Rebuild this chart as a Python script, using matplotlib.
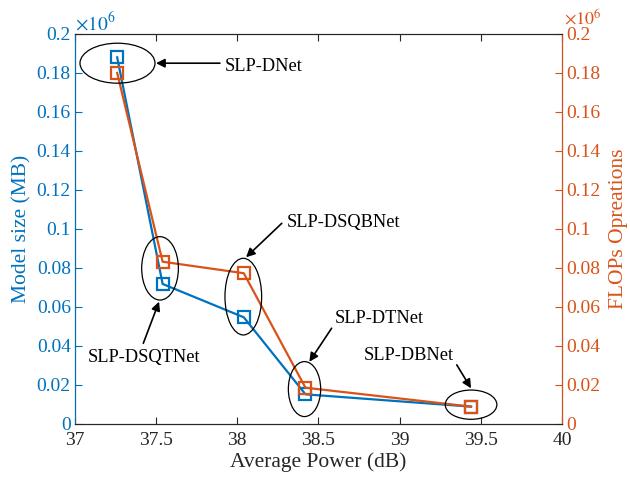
import matplotlib.pyplot as plt
from matplotlib.patches import Ellipse
from matplotlib.ticker import FormatStrFormatter, MultipleLocator

plt.rcParams['font.family'] = 'Liberation Serif'
plt.rcParams['mathtext.fontset'] = 'stix'

# data (values shown in units of 1e6)
power = [37.26, 37.54, 38.04, 38.42, 39.44]
model_size = [0.188, 0.0718, 0.0547, 0.0152, 0.0089]
flops = [0.180, 0.0832, 0.0773, 0.0186, 0.0089]
names = ['SLP-DNet', 'SLP-DSQTNet', 'SLP-DSQBNet', 'SLP-DTNet', 'SLP-DBNet']

BLUE = '#0072BD'
ORANGE = '#D95319'

fig = plt.figure(figsize=(6.3, 4.78), dpi=100)
ax = fig.add_axes([0.119, 0.113, 0.773, 0.816])
ax2 = ax.twinx()

ax.plot(power, model_size, '-s', color=BLUE, lw=1.6, ms=8, mfc='none', mew=1.6, zorder=3)
ax2.plot(power, flops, '-s', color=ORANGE, lw=1.6, ms=8, mfc='none', mew=1.6, zorder=3)

ax.set_xlim(37, 40)
ax.set_ylim(0, 0.2)
ax2.set_ylim(0, 0.2)
ax.xaxis.set_major_locator(MultipleLocator(0.5))
ax.yaxis.set_major_locator(MultipleLocator(0.02))
ax2.yaxis.set_major_locator(MultipleLocator(0.02))
for a in (ax, ax2):
    a.xaxis.set_major_formatter(FormatStrFormatter('%g'))
    a.yaxis.set_major_formatter(FormatStrFormatter('%g'))

ax.tick_params(axis='x', direction='in', top=True, length=5, labelsize=14, colors='#262626', pad=6)
ax.tick_params(axis='y', direction='in', length=5, labelsize=14, colors=BLUE, pad=3)
ax2.tick_params(axis='y', direction='in', length=5, labelsize=14, colors=ORANGE, pad=3)
for a in (ax, ax2):
    a.spines['top'].set_color('#262626')
    a.spines['bottom'].set_color('#262626')
ax2.spines['left'].set_color(BLUE)
ax2.spines['right'].set_color(ORANGE)

ax.set_xlabel('Average Power (dB)', fontsize=15.5, color='#262626', labelpad=2)
ax.set_ylabel('Model size (MB)', fontsize=15.5, color=BLUE, labelpad=4)
ax2.set_ylabel('FLOPs Opreations', fontsize=15.5, color=ORANGE, labelpad=6)

ax.text(0.0, 1.0, r'$\times10^6$', transform=ax.transAxes, color=BLUE, fontsize=14,
        ha='left', va='bottom')
ax2.text(1.005, 1.015, r'$\times10^6$', transform=ax2.transAxes, color=ORANGE, fontsize=13,
         ha='left', va='bottom')

# ellipses around each point pair (center, width, height in data units)
ellipses = [((37.262, 0.185), 0.462, 0.0205),
            ((37.524, 0.0798), 0.226, 0.0325),
            ((38.037, 0.0653), 0.226, 0.0393),
            ((38.414, 0.0179), 0.199, 0.0282),
            ((39.44, 0.0099), 0.318, 0.015)]
for c, w, h in ellipses:
    ax2.add_patch(Ellipse(c, w, h, fill=False, ec='black', lw=0.9, clip_on=False, zorder=4))

# text anchor (left, baseline), arrow tail, arrow head
text_pos = [(37.924, 0.181), (37.08, 0.0319), (38.306, 0.1012), (38.602, 0.0516), (38.781, 0.0328)]
tails = [(37.893, 0.185), (37.421, 0.0414), (38.274, 0.1029), (38.581, 0.0491), (39.352, 0.0303)]
heads = [(37.499, 0.185), (37.518, 0.0627), (38.054, 0.0855), (38.444, 0.0319), (39.44, 0.0183)]

arrow = dict(arrowstyle='-|>', color='black', lw=1.2, mutation_scale=13,
             shrinkA=0, shrinkB=0)
for name, tp, t, h in zip(names, text_pos, tails, heads):
    ax2.text(tp[0], tp[1], name, fontsize=13.2, ha='left', va='baseline', zorder=5)
    ax2.annotate('', xy=h, xytext=t, arrowprops=arrow, zorder=5)

fig.savefig('out.png', dpi=100)
